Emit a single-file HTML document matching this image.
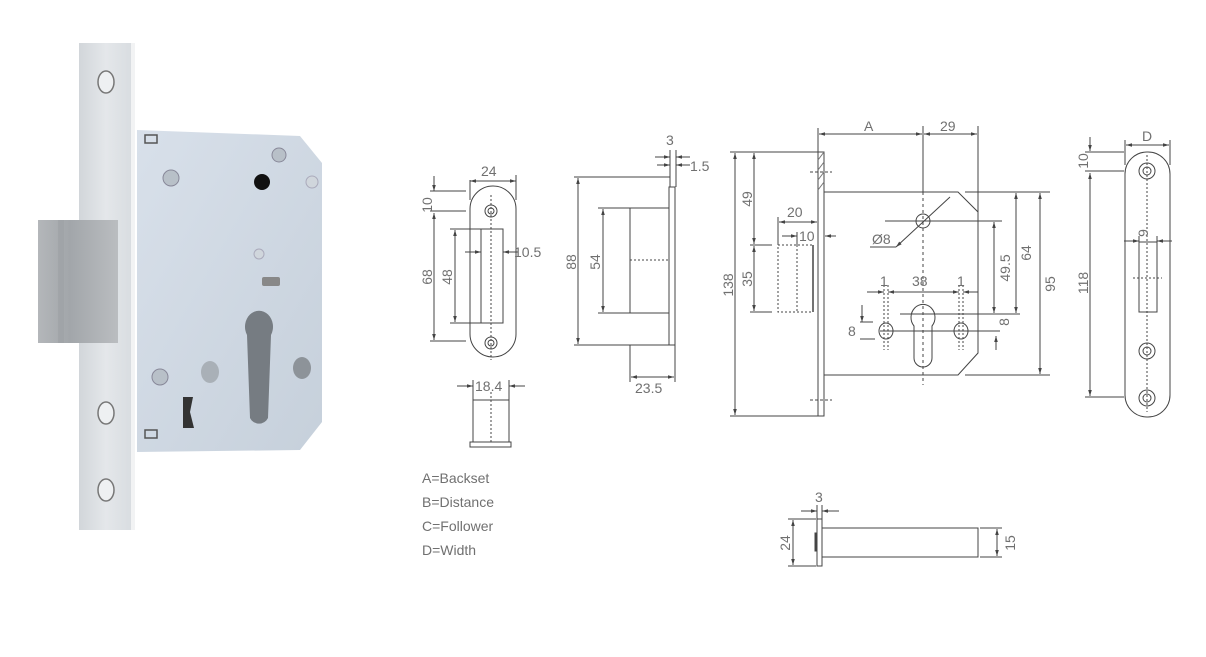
<!DOCTYPE html>
<html><head><meta charset="utf-8"><style>
html,body{margin:0;padding:0;background:#fff;}
svg{display:block;}
text{font-family:"Liberation Sans",sans-serif;fill:#707070;}
</style></head><body>
<svg width="1206" height="657" viewBox="0 0 1206 657" xmlns="http://www.w3.org/2000/svg">
<defs>
<marker id="a" viewBox="0 0 10 10" refX="10" refY="5" markerWidth="7" markerHeight="6" orient="auto-start-reverse"><path d="M0,2 L10,5 L0,8 z" fill="#444"/></marker>
<linearGradient id="fp" x1="0" x2="1"><stop offset="0" stop-color="#d2d6da"/><stop offset="0.5" stop-color="#e4e7ea"/><stop offset="1" stop-color="#d8dce0"/></linearGradient>
<linearGradient id="bd" x1="0" y1="0" x2="1" y2="1"><stop offset="0" stop-color="#d8e0ea"/><stop offset="1" stop-color="#c6d0db"/></linearGradient>
<linearGradient id="bl" x1="0" x2="1"><stop offset="0" stop-color="#b4b7ba"/><stop offset="0.4" stop-color="#a2a6aa"/><stop offset="1" stop-color="#babdc0"/></linearGradient>
</defs>

<!-- PHOTO -->
<polygon points="137,130 300,136 322,163 322,422 300,450 137,452" fill="url(#bd)"/>
<rect x="79" y="43" width="54" height="487" fill="url(#fp)"/>
<rect x="131" y="43" width="4" height="487" fill="#f2f3f4"/>
<rect x="38" y="220" width="80" height="123" fill="url(#bl)"/>
<rect x="58" y="220" width="6" height="123" fill="#999da1" opacity=".5"/>
<ellipse cx="106" cy="82" rx="8" ry="11" fill="#eef0f2" stroke="#777" stroke-width="1.5"/>
<ellipse cx="106" cy="413" rx="8" ry="11" fill="#eef0f2" stroke="#777" stroke-width="1.5"/>
<ellipse cx="106" cy="490" rx="8" ry="11" fill="#eef0f2" stroke="#777" stroke-width="1.5"/>
<circle cx="262" cy="182" r="8" fill="#111"/>
<circle cx="171" cy="178" r="8" fill="#b8c0c8" stroke="#889"/>
<circle cx="279" cy="155" r="7" fill="#b8c0c8" stroke="#889"/>
<circle cx="312" cy="182" r="6" fill="#d0d6dc" stroke="#aab"/>
<circle cx="259" cy="254" r="5" fill="#d0d6dc" stroke="#aab"/>
<rect x="262" y="277" width="18" height="9" rx="2" fill="#888"/>
<circle cx="160" cy="377" r="8" fill="#b8c0c8" stroke="#889"/>
<ellipse cx="210" cy="372" rx="9" ry="11" fill="#a9b0b7"/>
<ellipse cx="302" cy="368" rx="9" ry="11" fill="#8d9399"/>
<path d="M247,335 A14,16 0 1 1 271,335 L268,418 A10,10 0 0 1 250,418 Z" fill="#767c82"/>
<path d="M183,397 L193,397 L190,412 L194,428 L183,428 Z" fill="#333"/>
<rect x="145" y="135" width="12" height="8" fill="none" stroke="#555" stroke-width="1.5"/>
<rect x="145" y="430" width="12" height="8" fill="none" stroke="#555" stroke-width="1.5"/>

<g stroke="#444" stroke-width="1" fill="none">
<!-- STRIKE 1 -->
<rect x="470" y="186" width="46" height="171" rx="23"/>
<rect x="481" y="229" width="22" height="94"/>
<circle cx="491" cy="211" r="6"/><circle cx="491" cy="211" r="3"/>
<circle cx="491" cy="343" r="6"/><circle cx="491" cy="343" r="3"/>
<line x1="491" y1="195" x2="491" y2="360" stroke-dasharray="2,2"/>
<line x1="470" y1="180" x2="470" y2="200"/><line x1="516" y1="175" x2="516" y2="200"/>
<line x1="470" y1="181" x2="516" y2="181" marker-start="url(#a)" marker-end="url(#a)"/>
<line x1="430" y1="191" x2="466" y2="191"/><line x1="430" y1="211" x2="466" y2="211"/>
<line x1="434" y1="176" x2="434" y2="191" marker-end="url(#a)"/>
<line x1="434" y1="213" x2="434" y2="340" marker-start="url(#a)" marker-end="url(#a)"/>
<line x1="430" y1="341" x2="466" y2="341"/>
<line x1="450" y1="229" x2="481" y2="229"/><line x1="450" y1="323" x2="481" y2="323"/>
<line x1="455" y1="230" x2="455" y2="322" marker-start="url(#a)" marker-end="url(#a)"/>
<line x1="465" y1="252" x2="481" y2="252" marker-end="url(#a)"/>
<line x1="518" y1="252" x2="503" y2="252" marker-end="url(#a)"/>
<rect x="473" y="400" width="36" height="42"/>
<rect x="470" y="442" width="41" height="5"/>
<line x1="491" y1="392" x2="491" y2="442" stroke-dasharray="2,2"/>
<line x1="473" y1="380" x2="473" y2="400"/><line x1="509" y1="380" x2="509" y2="400"/>
<line x1="457" y1="386" x2="473" y2="386" marker-end="url(#a)"/>
<line x1="525" y1="386" x2="509" y2="386" marker-end="url(#a)"/>

<!-- STRIKE 2 side -->
<rect x="669" y="187" width="6" height="158"/>
<rect x="630" y="208" width="39" height="105"/>
<line x1="630" y1="260" x2="669" y2="260" stroke-dasharray="2,2"/>
<line x1="574" y1="177" x2="670" y2="177"/><line x1="574" y1="345" x2="669" y2="345"/>
<line x1="578" y1="178" x2="578" y2="344" marker-start="url(#a)" marker-end="url(#a)"/>
<line x1="598" y1="208" x2="630" y2="208"/><line x1="598" y1="313" x2="630" y2="313"/>
<line x1="603" y1="209" x2="603" y2="312" marker-start="url(#a)" marker-end="url(#a)"/>
<line x1="630" y1="345" x2="630" y2="382"/><line x1="675" y1="345" x2="675" y2="382"/>
<line x1="631" y1="377" x2="674" y2="377" marker-start="url(#a)" marker-end="url(#a)"/>
<line x1="670" y1="150" x2="670" y2="187"/><line x1="676" y1="150" x2="676" y2="187"/>
<line x1="655" y1="157" x2="670" y2="157" marker-end="url(#a)"/>
<line x1="690" y1="157" x2="676" y2="157" marker-end="url(#a)"/>
<line x1="657" y1="165" x2="670" y2="165" marker-end="url(#a)"/>
<line x1="690" y1="165" x2="676" y2="165" marker-end="url(#a)"/>

<!-- MAIN LOCK -->
<rect x="818" y="152" width="6" height="264"/>
<path d="M824,192 L958,192 L978,212 L978,353 L958,375 L824,375"/>
<line x1="818" y1="160" x2="824" y2="152" stroke="#777"/>
<line x1="818" y1="170" x2="824" y2="162" stroke="#777"/>
<line x1="818" y1="180" x2="824" y2="172" stroke="#777"/>
<line x1="818" y1="190" x2="824" y2="182" stroke="#777"/>
<circle cx="923" cy="221" r="7"/>
<path d="M914,326 A12,13 0 1 1 932,326 L932,358 A9,9 0 0 1 914,358 Z"/>
<ellipse cx="886" cy="331" rx="7" ry="8"/>
<ellipse cx="961" cy="331" rx="7" ry="8"/>
<line x1="923" y1="192" x2="923" y2="385" stroke-dasharray="3,3"/>
<line x1="884" y1="285" x2="884" y2="350" stroke-dasharray="2,2"/>
<line x1="888" y1="285" x2="888" y2="350" stroke-dasharray="2,2"/>
<line x1="959" y1="285" x2="959" y2="350" stroke-dasharray="2,2"/>
<line x1="963" y1="285" x2="963" y2="350" stroke-dasharray="2,2"/>
<line x1="880" y1="331" x2="1000" y2="331"/>
<line x1="900" y1="314" x2="1020" y2="314"/>
<line x1="885" y1="221" x2="1002" y2="221"/>
<rect x="778" y="245" width="35" height="67" stroke-dasharray="2,2"/>
<line x1="797" y1="245" x2="797" y2="312" stroke-dasharray="2,2"/>
<line x1="813" y1="245" x2="813" y2="312" stroke-width="1.5"/>
<line x1="810" y1="172" x2="832" y2="172" stroke-dasharray="3,2"/>
<line x1="810" y1="400" x2="832" y2="400" stroke-dasharray="3,2"/>
<line x1="818" y1="128" x2="818" y2="152"/><line x1="923" y1="126" x2="923" y2="192"/><line x1="978" y1="126" x2="978" y2="212"/>
<line x1="819" y1="134" x2="922" y2="134" marker-start="url(#a)" marker-end="url(#a)"/>
<line x1="924" y1="134" x2="977" y2="134" marker-start="url(#a)" marker-end="url(#a)"/>
<line x1="730" y1="152" x2="818" y2="152"/><line x1="730" y1="416" x2="818" y2="416"/>
<line x1="735" y1="153" x2="735" y2="415" marker-start="url(#a)" marker-end="url(#a)"/>
<line x1="754" y1="153" x2="754" y2="244" marker-start="url(#a)" marker-end="url(#a)"/>
<line x1="754" y1="246" x2="754" y2="311" marker-start="url(#a)" marker-end="url(#a)"/>
<line x1="750" y1="245" x2="772" y2="245"/><line x1="750" y1="312" x2="772" y2="312"/>
<line x1="778" y1="217" x2="778" y2="245"/><line x1="797" y1="232" x2="797" y2="245"/>
<line x1="779" y1="222" x2="817" y2="222" marker-start="url(#a)" marker-end="url(#a)"/>
<line x1="782" y1="236" x2="797" y2="236" marker-end="url(#a)"/>
<line x1="836" y1="236" x2="825" y2="236" marker-end="url(#a)"/>
<line x1="896" y1="247" x2="950" y2="197" marker-start="url(#a)"/>
<line x1="896" y1="247" x2="870" y2="247"/>
<line x1="965" y1="192" x2="1050" y2="192"/><line x1="965" y1="375" x2="1050" y2="375"/>
<line x1="994" y1="222" x2="994" y2="313" marker-start="url(#a)" marker-end="url(#a)"/>
<line x1="1016" y1="193" x2="1016" y2="313" marker-start="url(#a)" marker-end="url(#a)"/>
<line x1="1040" y1="193" x2="1040" y2="374" marker-start="url(#a)" marker-end="url(#a)"/>
<line x1="867" y1="292" x2="884" y2="292" marker-end="url(#a)"/>
<line x1="888" y1="292" x2="959" y2="292" marker-start="url(#a)" marker-end="url(#a)"/>
<line x1="978" y1="292" x2="963" y2="292" marker-end="url(#a)"/>
<line x1="978" y1="212" x2="978" y2="292"/>
<line x1="862" y1="305" x2="862" y2="322" marker-end="url(#a)"/>
<line x1="860" y1="322" x2="873" y2="322"/><line x1="860" y1="339" x2="875" y2="339"/>
<line x1="996" y1="350" x2="996" y2="336" marker-end="url(#a)"/>

<!-- RIGHT STRIP -->
<rect x="1125" y="152" width="45" height="265" rx="22"/>
<rect x="1139" y="242" width="18" height="70"/>
<line x1="1147" y1="155" x2="1147" y2="412" stroke-dasharray="2,2"/>
<line x1="1133" y1="278" x2="1162" y2="278" stroke-dasharray="2,2"/>
<circle cx="1147" cy="171" r="8"/><circle cx="1147" cy="171" r="4"/>
<circle cx="1147" cy="351" r="8"/><circle cx="1147" cy="351" r="4"/>
<circle cx="1147" cy="398" r="8"/><circle cx="1147" cy="398" r="4"/>
<line x1="1125" y1="140" x2="1125" y2="165"/><line x1="1170" y1="140" x2="1170" y2="165"/>
<line x1="1126" y1="145" x2="1169" y2="145" marker-start="url(#a)" marker-end="url(#a)"/>
<line x1="1085" y1="152" x2="1124" y2="152"/><line x1="1085" y1="171" x2="1124" y2="171"/>
<line x1="1085" y1="397" x2="1124" y2="397"/>
<line x1="1090" y1="137" x2="1090" y2="151" marker-end="url(#a)"/>
<line x1="1090" y1="173" x2="1090" y2="396" marker-start="url(#a)" marker-end="url(#a)"/>
<line x1="1124" y1="241" x2="1139" y2="241" marker-end="url(#a)"/>
<line x1="1172" y1="241" x2="1157" y2="241" marker-end="url(#a)"/>
<line x1="1139" y1="236" x2="1139" y2="242"/><line x1="1157" y1="236" x2="1157" y2="242"/>

<!-- BOTTOM BOLT -->
<rect x="817" y="519" width="5" height="47"/>
<rect x="822" y="528" width="156" height="29"/>
<rect x="815" y="533" width="2" height="18" fill="#444"/>
<line x1="788" y1="519" x2="816" y2="519"/><line x1="788" y1="566" x2="816" y2="566"/>
<line x1="793" y1="520" x2="793" y2="565" marker-start="url(#a)" marker-end="url(#a)"/>
<line x1="980" y1="528" x2="1002" y2="528"/><line x1="980" y1="557" x2="1002" y2="557"/>
<line x1="997" y1="529" x2="997" y2="556" marker-start="url(#a)" marker-end="url(#a)"/>
<line x1="817" y1="505" x2="817" y2="519"/><line x1="822" y1="505" x2="822" y2="519"/>
<line x1="801" y1="511" x2="817" y2="511" marker-end="url(#a)"/>
<line x1="839" y1="511" x2="822" y2="511" marker-end="url(#a)"/>
</g>

<!-- TEXT -->
<g font-size="14">
<text x="481" y="176">24</text>
<text x="514" y="257">10.5</text>
<text transform="translate(432,205) rotate(-90)" text-anchor="middle">10</text>
<text transform="translate(432,277) rotate(-90)" text-anchor="middle">68</text>
<text transform="translate(452,277) rotate(-90)" text-anchor="middle">48</text>
<text x="475" y="391">18.4</text>
<text x="666" y="145">3</text>
<text x="690" y="171">1.5</text>
<text transform="translate(576,262) rotate(-90)" text-anchor="middle">88</text>
<text transform="translate(600,262) rotate(-90)" text-anchor="middle">54</text>
<text x="635" y="393">23.5</text>
<text x="864" y="131">A</text>
<text x="940" y="131">29</text>
<text transform="translate(733,285) rotate(-90)" text-anchor="middle">138</text>
<text transform="translate(752,199) rotate(-90)" text-anchor="middle">49</text>
<text transform="translate(752,279) rotate(-90)" text-anchor="middle">35</text>
<text x="787" y="217">20</text>
<text x="799" y="241">10</text>
<text x="872" y="244">Ø8</text>
<text x="880" y="286">1</text>
<text x="912" y="286">38</text>
<text x="957" y="286">1</text>
<text x="848" y="336">8</text>
<text transform="translate(1009,322) rotate(-90)" text-anchor="middle">8</text>
<text transform="translate(1010,268) rotate(-90)" text-anchor="middle">49.5</text>
<text transform="translate(1031,253) rotate(-90)" text-anchor="middle">64</text>
<text transform="translate(1055,284) rotate(-90)" text-anchor="middle">95</text>
<text x="1142" y="141">D</text>
<text transform="translate(1088,161) rotate(-90)" text-anchor="middle">10</text>
<text transform="translate(1088,283) rotate(-90)" text-anchor="middle">118</text>
<text transform="translate(1148,233) rotate(-90)" text-anchor="middle">9</text>
<text x="815" y="502">3</text>
<text transform="translate(790,543) rotate(-90)" text-anchor="middle">24</text>
<text transform="translate(1015,543) rotate(-90)" text-anchor="middle">15</text>
<text x="422" y="483">A=Backset</text>
<text x="422" y="507">B=Distance</text>
<text x="422" y="531">C=Follower</text>
<text x="422" y="555">D=Width</text>
</g>
</svg>
</body></html>
